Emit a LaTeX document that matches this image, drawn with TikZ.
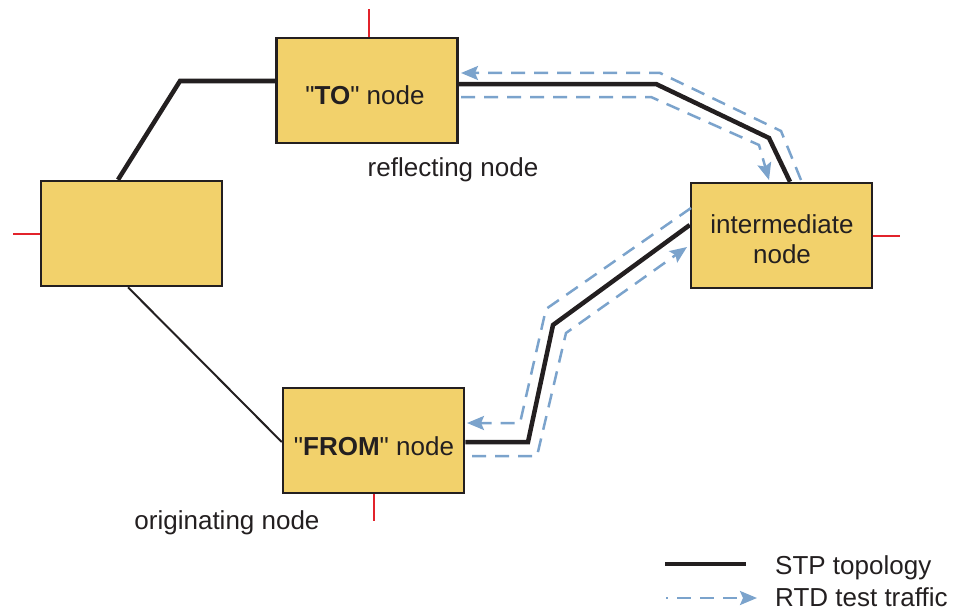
\documentclass[tikz,border=0pt]{standalone}
\usepackage{fontspec}
\setmainfont{Liberation Sans}[Ligatures=TeXOff]
\usetikzlibrary{arrows.meta}
\definecolor{boxfill}{RGB}{242,209,107}
\definecolor{rtdblue}{RGB}{123,163,204}
\definecolor{tickred}{RGB}{226,35,43}
\definecolor{ink}{RGB}{35,31,32}
\begin{document}
\begin{tikzpicture}[x=1pt,y=-1pt,
  box/.style={draw=ink, line width=2.5pt, fill=boxfill, minimum width=181pt, minimum height=105pt, inner sep=0pt},
  lbl/.style={text=ink, font=\fontsize{26}{30}\selectfont, inner sep=0pt, anchor=base},
  stp/.style={draw=ink, line width=4.5pt, line join=miter},
  thinlink/.style={draw=ink, line width=2pt},
  rtd/.style={draw=rtdblue, line width=2.5pt, dash pattern=on 14pt off 9pt, -{Stealth[length=17pt,width=14pt,inset=3pt]}},
  redtick/.style={draw=tickred, line width=2pt}]
\useasboundingbox (0,0) rectangle (961,610);

% nodes
\node[box] (to) at (367,90.5) {};
\node[box] (left) at (131.5,233.5) {};
\node[box] (from) at (373.5,440.5) {};
\node[box] (inter) at (781.5,235.5) {};

% labels
\node[lbl] (totxt) at (365,104) {"\textbf{TO}" node};
\node[lbl] (fromtxt) at (374,455) {"\textbf{FROM}" node};
\node[lbl] (intertxt1) at (782,233) {intermediate};
\node[lbl] (intertxt2) at (782,263) {node};
\node[lbl] (refl) at (453,176) {reflecting node};
\node[lbl] (orig) at (227,529) {originating node};

% red ticks
\draw[redtick] ([xshift=2pt]to.north) -- ++(0,-28);
\draw[redtick] (left.west) -- ++(-27,0);
\draw[redtick] (inter.east) -- ++(27,0);
\draw[redtick] (from.south) -- ++(0,27);

% STP topology links
\coordinate (s1) at (180,81);
\coordinate (s0) at (118,181);
\draw[stp] (to.west |- s1) -- (s1) -- (s0 |- left.north);

\coordinate (t0) at (128,286);
\coordinate (t1) at (283,442);
\draw[thinlink] (t0 |- left.south) -- (t1 -| from.west);

\coordinate (u1) at (656,84);
\coordinate (u2) at (769,138);
\coordinate (u3) at (790,182);
\draw[stp] (to.east |- u1) -- (u1) -- (u2) -- (u3 |- inter.north);

\coordinate (v1) at (528,442);
\coordinate (v2) at (553,325);
\coordinate (v3) at (691,225);
\draw[stp] (from.east |- v1) -- (v1) -- (v2) -- (v3 -| inter.west);

% RTD test traffic
\coordinate (a0) at (801,180);
\coordinate (a1) at (781,131);
\coordinate (a2) at (660,73);
\coordinate (a3) at (461,73);
\draw[rtd] (a0) -- (a1) -- (a2) -- (a3);

\coordinate (b0) at (461,97);
\coordinate (b1) at (651,97);
\coordinate (b2) at (759,145);
\coordinate (b3) at (769,180);
\draw[rtd] (b0) -- (b1) -- (b2) -- (b3);

\coordinate (c0) at (691,208);
\coordinate (c1) at (546,309);
\coordinate (c2) at (520,423);
\coordinate (c3) at (467,423);
\draw[rtd] (c0) -- (c1) -- (c2) -- (c3);

\coordinate (d0) at (472,456);
\coordinate (d1) at (537,456);
\coordinate (d2) at (566,333);
\coordinate (d3) at (687,247);
\draw[rtd] (d0) -- (d1) -- (d2) -- (d3);

% legend
\coordinate (l0) at (665,564);
\coordinate (l1) at (746,564);
\draw[stp] (l0) -- (l1);
\coordinate (m0) at (666,598);
\coordinate (m1) at (757,598);
\draw[rtd, dash phase=12pt] (m0) -- (m1);
\node[lbl, anchor=base west] (leg1) at (775,574) {STP topology};
\node[lbl, anchor=base west] (leg2) at (775,606) {RTD test traffic};
\end{tikzpicture}
\end{document}
